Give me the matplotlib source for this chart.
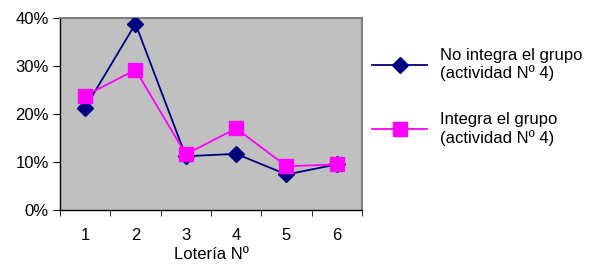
import matplotlib
matplotlib.use("Agg")
import matplotlib.pyplot as plt
from matplotlib.ticker import FuncFormatter, FixedLocator

categories = ["1", "2", "3", "4", "5", "6"]
no_integra = [21.3, 38.8, 11.2, 11.7, 7.4, 9.5]
integra = [23.8, 29.2, 11.6, 17.0, 9.1, 9.5]
series_labels = ["No integra el grupo\n(actividad Nº 4)", "Integra el grupo\n(actividad Nº 4)"]
y_ticks = [0, 10, 20, 30, 40]

plt.rcParams['font.family'] = ['Liberation Sans', 'DejaVu Sans']
fs = 12
fig = plt.figure(figsize=(5.95, 2.65), dpi=100)
ax = fig.add_axes([60/595, 55/265, 302/595, 192/265])
ax.set_facecolor('#C0C0C0')

x = list(range(len(categories)))
ax.plot(x, no_integra, color='#000080', marker='D', markersize=8.5, linewidth=1.3,
        label=series_labels[0], zorder=3)
ax.plot(x, integra, color='#FF00FF', marker='s', markersize=9.5, linewidth=1.3,
        label=series_labels[1], zorder=3)

ax.set_xlim(-0.5, len(categories) - 0.5)
ax.set_ylim(0, 40)
ax.set_yticks(y_ticks)
ax.yaxis.set_major_formatter(FuncFormatter(lambda v, p: f"{int(v)}%"))
ax.set_xticks(x)
ax.set_xticklabels(categories)
ax.xaxis.set_minor_locator(FixedLocator([i - 0.5 for i in range(len(categories) + 1)]))
ax.tick_params(axis='x', which='major', length=0, pad=13, labelsize=fs)
ax.tick_params(axis='x', which='minor', length=4, direction='out', color='black')
ax.tick_params(axis='y', length=5, direction='out', labelsize=fs, pad=3)
ax.set_xlabel("Lotería Nº", fontsize=fs, labelpad=3)

for s in ['top', 'right']:
    ax.spines[s].set_color('#808080')
    ax.spines[s].set_linewidth(1.5)
for s in ['left', 'bottom']:
    ax.spines[s].set_color('black')
    ax.spines[s].set_linewidth(1)

leg = ax.legend(loc='upper left', bbox_to_anchor=(372/595, 1 - 48/265),
                bbox_transform=fig.transFigure, frameon=False, fontsize=fs,
                handlelength=3.3, handletextpad=0.8, labelspacing=1.85,
                borderaxespad=0, borderpad=0)

fig.savefig("out.png", dpi=100)
